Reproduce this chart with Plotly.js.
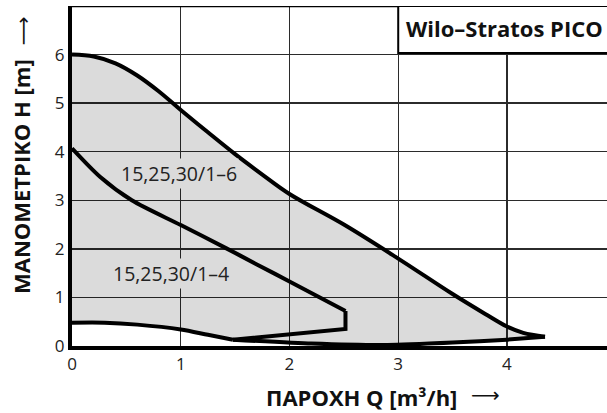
<!DOCTYPE html>
<html>
<head>
<meta charset="utf-8">
<script src="https://cdn.plot.ly/plotly-3.0.1.min.js"></script>
<style>html,body{margin:0;padding:0;background:#fff;}#chart{width:607px;height:413px;}</style>
</head>
<body>
<div id="chart"></div>
<script>
// Max curve of 15,25,30/1-6 (Q in m3/h, H in m)
const outerQ = [0, 0.2, 0.4, 0.6, 0.8, 1.0, 1.25, 1.5, 1.75, 2.0, 2.5, 3.0, 3.5, 3.8, 4.0, 4.15, 4.35];
const outerH = [6.0, 5.96, 5.82, 5.57, 5.24, 4.86, 4.4, 3.95, 3.53, 3.13, 2.5, 1.8, 1.07, 0.66, 0.4, 0.27, 0.19];
// Bottom edge from min curve end to the tip
const baseQ = [1.48, 2.2, 2.9, 3.5, 4.0, 4.35];
const baseH = [0.13, 0.05, 0.02, 0.07, 0.13, 0.19];
// Minimum curve
const minQ = [0, 0.3, 0.6, 1.0, 1.25, 1.48];
const minH = [0.48, 0.48, 0.44, 0.34, 0.23, 0.13];
// Max curve of 15,25,30/1-4
const innerQ = [0, 0.26, 0.55, 1.0, 1.42, 1.7, 2.0, 2.515];
const innerH = [4.07, 3.48, 3.0, 2.49, 2.01, 1.68, 1.33, 0.72];
// Corner of the 1-4 curve down to the min curve
const cornerQ = [2.515, 2.515, 1.48];
const cornerH = [0.72, 0.35, 0.13];

const seriesLabels = ['15,25,30/1–6', '15,25,30/1–4'];
const labelQ = [0.98, 0.91];
const labelH = [3.56, 1.50];
const chartTitle = 'Wilo–Stratos PICO';
const xTitle = 'ΠΑΡΟΧΗ Q [m³/h]';
const yTitle = 'ΜΑΝΟΜΕΤΡΙΚΟ Η [m]';
const xTicks = [0, 1, 2, 3, 4];
const yTicks = [0, 1, 2, 3, 4, 5, 6];

const fillQ = outerQ.concat(baseQ.slice().reverse(), minQ.slice().reverse());
const fillH = outerH.concat(baseH.slice().reverse(), minH.slice().reverse());

const lineStyle = {color: '#000', width: 4};
const traces = [
  {x: fillQ, y: fillH, mode: 'lines', fill: 'toself', fillcolor: 'rgba(0,0,0,0.14)', line: {width: 0}, hoverinfo: 'skip'},
  {x: outerQ, y: outerH, mode: 'lines', line: Object.assign({shape: 'spline', smoothing: 1}, lineStyle)},
  {x: baseQ, y: baseH, mode: 'lines', line: Object.assign({shape: 'spline', smoothing: 0.5}, lineStyle)},
  {x: minQ, y: minH, mode: 'lines', line: Object.assign({shape: 'spline', smoothing: 0.8}, lineStyle)},
  {x: innerQ, y: innerH, mode: 'lines', line: Object.assign({shape: 'spline', smoothing: 0.8}, lineStyle)},
  {x: cornerQ, y: cornerH, mode: 'lines', line: Object.assign({shape: 'linear'}, lineStyle)}
];

const font = 'Open Sans, Noto Sans, sans-serif';
const layout = {
  width: 607, height: 413,
  margin: {l: 72, r: 0, t: 6, b: 67},
  paper_bgcolor: '#fff', plot_bgcolor: '#fff',
  showlegend: false,
  font: {family: font, color: '#222', size: 17},
  xaxis: {
    range: [0, 4.92], tickvals: xTicks, ticktext: xTicks.map(String),
    showgrid: true, gridcolor: '#2b2b2b', gridwidth: 1.3,
    zeroline: false, showline: true, linecolor: '#000', linewidth: 4,
    ticks: '', tickfont: {size: 17, color: '#222'}, fixedrange: true
  },
  yaxis: {
    range: [0, 7], tickvals: yTicks, ticktext: yTicks.map(String),
    showgrid: true, gridcolor: '#2b2b2b', gridwidth: 1.3,
    zeroline: false, showline: true, linecolor: '#000', linewidth: 4,
    ticks: '', ticklabelstandoff: 0, tickfont: {size: 17, color: '#222'}, fixedrange: true
  },
  shapes: [
    {type: 'line', xref: 'paper', yref: 'y', x0: 0, x1: 1, y0: 7, y1: 7, line: {color: '#000', width: 2.7}},
    {type: 'rect', xref: 'x', yref: 'y', x0: 3, x1: 5.5, y0: 6.03, y1: 7, fillcolor: '#fff', line: {color: '#000', width: 2}, layer: 'above'}
  ],
  annotations: [
    {x: 3.05, y: 6.55, xref: 'x', yref: 'y', text: '<b>' + chartTitle + '</b>', showarrow: false, xanchor: 'left', yanchor: 'middle', font: {size: 22, color: '#111', family: font}},
    {x: labelQ[0], y: labelH[0], xref: 'x', yref: 'y', text: seriesLabels[0], showarrow: false, bgcolor: '#dbdbdb', font: {size: 19.5, color: '#222', family: font}},
    {x: labelQ[1], y: labelH[1], xref: 'x', yref: 'y', text: seriesLabels[1], showarrow: false, bgcolor: '#dbdbdb', font: {size: 19.5, color: '#222', family: font}},
    {x: 0.541, y: -0.15, xref: 'paper', yref: 'paper', text: '<b>' + xTitle + '</b>', showarrow: false, xanchor: 'center', yanchor: 'middle', font: {size: 22, color: '#111', family: font}},
    {x: 0.772, y: -0.144, xref: 'paper', yref: 'paper', text: '⟶', showarrow: false, xanchor: 'center', yanchor: 'middle', font: {size: 20, color: '#111', family: 'DejaVu Sans'}},
    {x: 0, y: 0.497, xref: 'paper', yref: 'paper', xshift: -51, text: '<b>' + yTitle + '</b>', textangle: -90, showarrow: false, xanchor: 'center', yanchor: 'middle', font: {size: 22, color: '#111', family: font}},
    {x: 0, y: 0.926, xref: 'paper', yref: 'paper', xshift: -49, text: '⟶', textangle: -90, showarrow: false, xanchor: 'center', yanchor: 'middle', font: {size: 20, color: '#111', family: 'DejaVu Sans'}}
  ]
};

Plotly.newPlot('chart', traces, layout, {displayModeBar: false, staticPlot: true});
</script>
</body>
</html>
